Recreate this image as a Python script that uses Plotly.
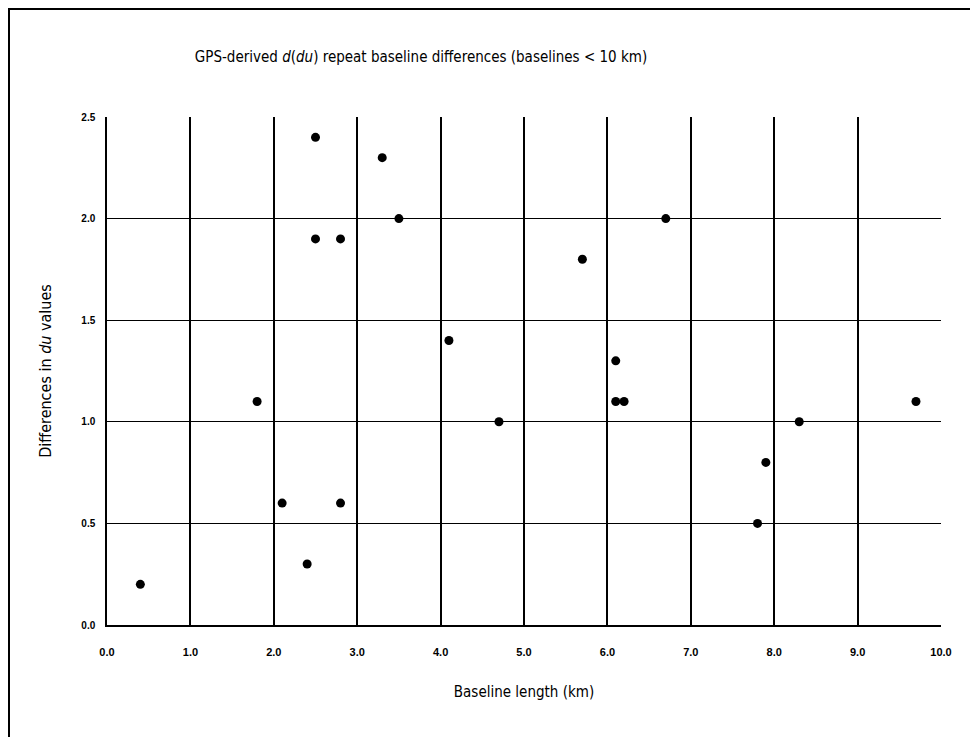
import plotly.graph_objects as go

baseline_km = [0.4, 1.8, 2.1, 2.4, 2.5, 2.5, 2.8, 2.8, 3.3, 3.5, 4.1, 4.7,
               5.7, 6.1, 6.1, 6.2, 6.7, 7.8, 7.9, 8.3, 9.7]
du_diff = [0.2, 1.1, 0.6, 0.3, 2.4, 1.9, 1.9, 0.6, 2.3, 2.0, 1.4, 1.0,
           1.8, 1.3, 1.1, 1.1, 2.0, 0.5, 0.8, 1.0, 1.1]

x_ticks = [0, 1, 2, 3, 4, 5, 6, 7, 8, 9, 10]
x_tick_labels = ["0.0", "1.0", "2.0", "3.0", "4.0", "5.0", "6.0", "7.0", "8.0", "9.0", "10.0"]
y_ticks = [0, 0.5, 1.0, 1.5, 2.0, 2.5]
y_tick_labels = ["0.0", "0.5", "1.0", "1.5", "2.0", "2.5"]
x_grid = [0, 1, 2, 3, 4, 5, 6, 7, 8, 9]
y_grid = [0, 0.5, 1.0, 1.5, 2.0]

TXT = "DejaVu Sans Condensed, Liberation Sans Narrow, Arial Narrow, sans-serif"
TICK = "Liberation Sans, Arial, sans-serif"

# page has an 8px body margin; figure is sized to fit inside the 978x737 window
W, H = 970, 729
L, T = 99, 109
PW, PH = 834, 508

fig = go.Figure()
fig.add_trace(go.Scatter(
    x=baseline_km, y=du_diff, mode="markers",
    marker=dict(color="black", size=9, line=dict(width=0)),
    showlegend=False, hoverinfo="x+y",
))

fig.update_layout(
    width=W, height=H,
    margin=dict(l=L, r=W - L - PW, t=T, b=H - T - PH, pad=0),
    paper_bgcolor="white", plot_bgcolor="white",
    title=dict(
        text="GPS-derived <i>d</i>(<i>du</i>) repeat baseline differences (baselines < 10 km)",
        x=(413 / W), xanchor="center", y=1 - 49 / H, yanchor="middle",
        font=dict(family=TXT, size=15, color="black"),
    ),
    xaxis=dict(
        range=[0, 10], tickvals=x_ticks, ticktext=x_tick_labels,
        showgrid=False, zeroline=False, showline=True, linecolor="black", linewidth=1.5,
        ticks="", ticklen=0, ticklabelstandoff=16,
        tickfont=dict(family=TICK, size=11, color="black", weight="bold"),
        minor=dict(tickvals=x_grid, showgrid=True, gridcolor="black", gridwidth=1.5, ticks=""),
        title=dict(text="Baseline length (km)", font=dict(family=TXT, size=15, color="black"),
                   standoff=30),
        fixedrange=True,
    ),
    yaxis=dict(
        range=[0, 2.5], tickvals=y_ticks, ticktext=y_tick_labels,
        showgrid=False, zeroline=False, showline=True, linecolor="black", linewidth=1.5,
        ticks="", ticklen=0, ticklabelstandoff=8,
        tickfont=dict(family=TICK, size=10, color="black", weight="bold"),
        minor=dict(tickvals=y_grid, showgrid=True, gridcolor="black", gridwidth=1.2, ticks=""),
        title=dict(text="Differences in <i>du</i> values", font=dict(family=TXT, size=16, color="black"),
                   standoff=26),
        fixedrange=True,
    ),
)

# outer frame (top and left edges visible in the reference)
fig.add_shape(type="line", xref="paper", yref="paper",
              x0=(0 - L) / PW, x1=(W + 10 - L) / PW,
              y0=(T + PH - 0) / PH, y1=(T + PH - 0) / PH,
              line=dict(color="black", width=4))
fig.add_shape(type="line", xref="paper", yref="paper",
              x0=(0 - L) / PW, x1=(0 - L) / PW,
              y0=(T + PH - 0) / PH, y1=(T + PH - H - 10) / PH,
              line=dict(color="black", width=4))

fig.write_html("out.html")
